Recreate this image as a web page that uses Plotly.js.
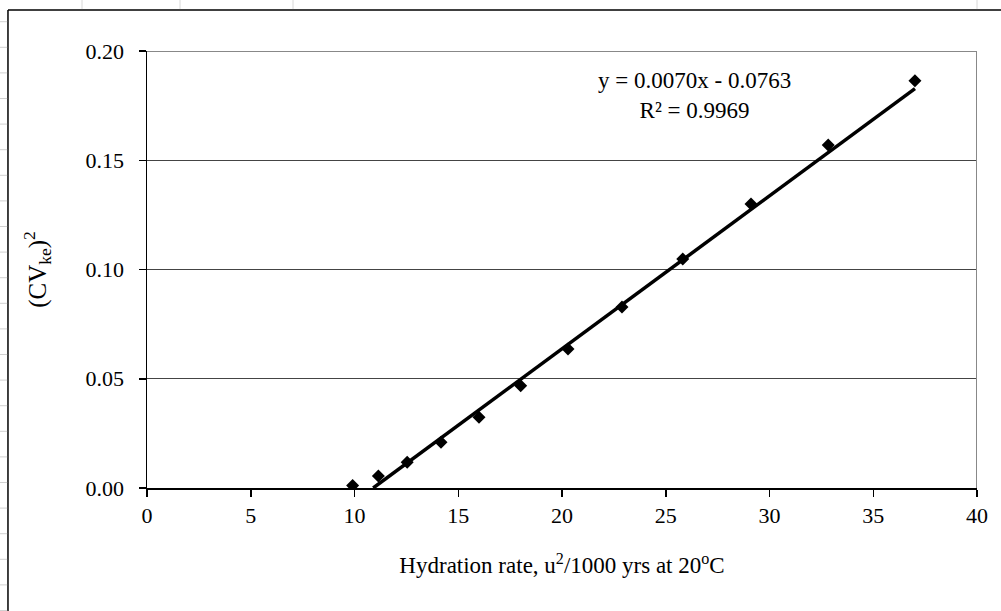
<!DOCTYPE html>
<html>
<head>
<meta charset="utf-8">
<script src="https://cdn.plot.ly/plotly-3.0.1.min.js"></script>
<style>html,body{margin:0;padding:0;background:#fff;}#chart{width:1001px;height:611px;}</style>
</head>
<body>
<div id="chart"></div>
<script>
// Data
const hydrationRate = [9.91, 11.15, 12.54, 14.17, 16.00, 18.01, 20.29, 22.89, 25.82, 29.11, 32.83, 37.01];
const cvSquared     = [0.0011, 0.0055, 0.0118, 0.0209, 0.0324, 0.0468, 0.0636, 0.0828, 0.1048, 0.1300, 0.1570, 0.1864];
const fitSlope = 0.0070;
const fitIntercept = -0.0763;
const fitR2 = 0.9969;
const xTickVals = [0, 5, 10, 15, 20, 25, 30, 35, 40];
const yTickVals = [0.00, 0.05, 0.10, 0.15, 0.20];

// Trend line from the fitted equation, starting where it crosses y = 0
const fitX0 = -fitIntercept / fitSlope;
const fitX1 = Math.max(...hydrationRate);
const fitX = [fitX0, fitX1];
const fitY = fitX.map(x => fitSlope * x + fitIntercept);

const font = {family: '"Liberation Serif", "Times New Roman", serif', color: '#000'};

const traces = [
  {x: fitX, y: fitY, type: 'scatter', mode: 'lines',
   line: {color: '#000', width: 3.5}, hoverinfo: 'skip', showlegend: false},
  {x: hydrationRate, y: cvSquared, type: 'scatter', mode: 'markers',
   marker: {symbol: 'diamond', size: 10, color: '#000'}, showlegend: false}
];

// Paper-coordinate frame of the scanned page
const shapes = [
  {type: 'line', xref: 'paper', yref: 'paper', x0: -0.1675, x1: -0.1675, y0: 1.0938, y1: -0.30, line: {color: '#000', width: 1.5}},
  {type: 'line', xref: 'paper', yref: 'paper', x0: -0.1675, x1: 1.04, y0: 1.0938, y1: 1.0938, line: {color: '#000', width: 1.5}},
  {type: 'line', xref: 'x', yref: 'y', x0: 40, x1: 40, y0: 0, y1: 0.2, line: {color: '#888', width: 2}},
  {type: 'line', xref: 'x', yref: 'y', x0: 0, x1: 40, y0: 0.2, y1: 0.2, line: {color: '#888', width: 2}}
];
// faint ruler marks on the left page edge
for (let py = 21.7; py < 611; py += 25.6) {
  const yp = (488 - py) / 437;
  shapes.push({type: 'line', xref: 'paper', yref: 'paper', x0: -0.1771, x1: -0.1685, y0: yp, y1: yp, line: {color: '#d0d0d0', width: 1}});
}
[82, 180, 293, 977].forEach(px => {
  const xp = (px - 147) / 830;
  shapes.push({type: 'line', xref: 'paper', yref: 'paper', x0: xp, x1: xp, y0: 1.1167, y1: 1.0960, line: {color: '#d8d8d8', width: 1}});
});

const layout = {
  width: 1001, height: 611,
  margin: {l: 147, r: 24, t: 51, b: 123},
  paper_bgcolor: '#fff', plot_bgcolor: '#fff',
  font: Object.assign({size: 22}, font),
  showlegend: false,
  xaxis: {
    range: [0, 40], tickvals: xTickVals, ticktext: xTickVals.map(String),
    showgrid: false, zeroline: false,
    showline: true, linecolor: '#000', linewidth: 1.5,
    ticks: 'outside', ticklen: 7, tickcolor: '#000', tickwidth: 1.5,
    tickfont: Object.assign({size: 22}, font),
    title: {text: 'Hydration rate, u<sup>2</sup>/1000 yrs at 20<sup>o</sup>C', font: Object.assign({size: 23}, font), standoff: 30}
  },
  yaxis: {
    range: [0, 0.2], tickvals: yTickVals, ticktext: yTickVals.map(v => v.toFixed(2)),
    showgrid: true, gridcolor: '#444', gridwidth: 1.3,
    zeroline: false,
    showline: true, linecolor: '#000', linewidth: 1.5,
    ticks: 'outside', ticklen: 7, tickcolor: '#000', tickwidth: 1.5,
    ticklabelstandoff: 10,
    tickfont: Object.assign({size: 22}, font),
    title: {text: '(CV<sub>ke</sub>)<sup>2</sup>', font: Object.assign({size: 25}, font), standoff: 32}
  },
  shapes: shapes,
  annotations: [{
    xref: 'x', yref: 'y', x: 26.4, y: 0.1795, xanchor: 'center', yanchor: 'middle',
    text: 'y = ' + fitSlope.toFixed(4) + 'x - ' + Math.abs(fitIntercept).toFixed(4) + '<br>R² = ' + fitR2.toFixed(4),
    showarrow: false, align: 'center',
    font: Object.assign({size: 23}, font)
  }]
};

Plotly.newPlot('chart', traces, layout, {displayModeBar: false, staticPlot: true});
</script>
</body>
</html>
